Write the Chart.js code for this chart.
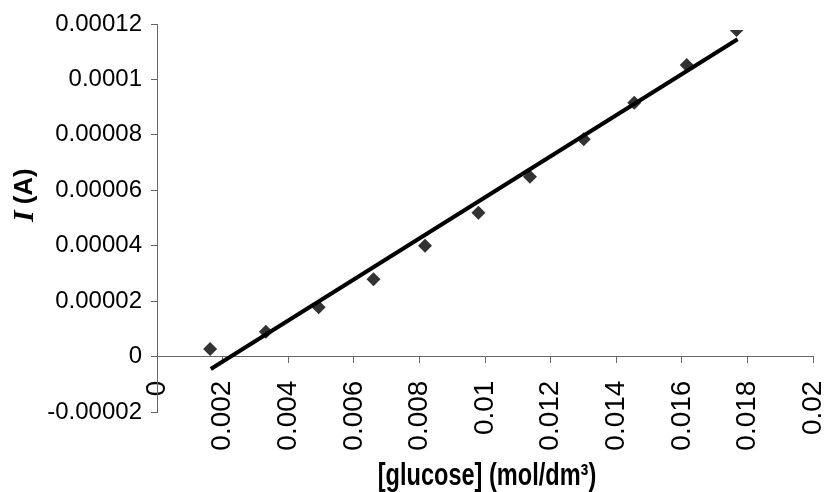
<!DOCTYPE html>
<html>
<head>
<meta charset="utf-8">
<title>Current vs glucose concentration</title>
<script src="https://cdn.jsdelivr.net/npm/chart.js@4.4.1/dist/chart.umd.min.js"></script>
<style>
  html, body { margin: 0; padding: 0; background: #fff; }
  #wrap { width: 830px; height: 492px; }
</style>
</head>
<body>
<div id="wrap"><canvas id="chart" width="830" height="492"></canvas></div>
<script>
// ------------------------------------------------------------
// DATA
// ------------------------------------------------------------
const glucoseConc = [0.00162, 0.00332, 0.00493, 0.0066, 0.00817, 0.0098, 0.01137, 0.01301, 0.01455, 0.01615, 0.01767];
const currentA    = [0.0000027, 0.000009, 0.0000178, 0.0000279, 0.00004, 0.0000519, 0.0000649, 0.0000784, 0.0000916, 0.0001052, 0.0001178];

// linear trendline end points
const trendX = [0.00164, 0.0177];
const trendY = [-0.0000045, 0.0001145];

const xTickValues = [0, 0.002, 0.004, 0.006, 0.008, 0.01, 0.012, 0.014, 0.016, 0.018, 0.02];
const xTickLabels = ["0", "0.002", "0.004", "0.006", "0.008", "0.01", "0.012", "0.014", "0.016", "0.018", "0.02"];
const yTickValues = [-0.00002, 0, 0.00002, 0.00004, 0.00006, 0.00008, 0.0001, 0.00012];
const yTickLabels = ["-0.00002", "0", "0.00002", "0.00004", "0.00006", "0.00008", "0.0001", "0.00012"];

const xTitle = "[glucose] (mol/dm\u00B3)";
const yTitleSymbol = "I";
const yTitleUnit = "(A)";

// ------------------------------------------------------------
// STYLE
// ------------------------------------------------------------
const SANS = "'Liberation Sans', Arial, sans-serif";
const SERIF = "'Liberation Serif', 'Times New Roman', serif";
const AXIS_GREY = "#666666";

// Axis titles: the I is serif bold italic, so draw them by hand
const axisTitles = {
    id: "axisTitles",
    afterDraw(chart) {
        const ctx = chart.ctx;
        const area = chart.chartArea;

        // x title, squeezed sideways like the original
        ctx.save();
        ctx.fillStyle = "#000";
        ctx.font = "bold 31px " + SANS;
        ctx.textAlign = "center";
        ctx.textBaseline = "alphabetic";
        ctx.translate((area.left + area.right) / 2 + 2, 485);
        ctx.scale(0.76, 1);
        ctx.fillText(xTitle, 0, 0);
        ctx.restore();

        // y title, rotated, reads bottom to top
        ctx.save();
        ctx.fillStyle = "#000";
        ctx.translate(25, 222);
        ctx.rotate(-Math.PI / 2);
        ctx.textAlign = "left";
        ctx.textBaseline = "middle";
        ctx.font = "bold italic 30px " + SERIF;
        ctx.fillText(yTitleSymbol, 0, 0);
        const w = ctx.measureText(yTitleSymbol).width;
        ctx.font = "bold 26px " + SANS;
        ctx.fillText(yTitleUnit, w + 6, 0);
        ctx.restore();
    }
};

new Chart(document.getElementById("chart"), {
    type: "scatter",
    data: {
        datasets: [
            {
                type: "line",
                label: "Linear fit",
                data: trendX.map((x, i) => ({ x: x, y: trendY[i] })),
                borderColor: "#000",
                borderWidth: 4,
                pointRadius: 0,
                fill: false,
                tension: 0
            },
            {
                label: "I",
                data: glucoseConc.map((x, i) => ({ x: x, y: currentA[i] })),
                pointStyle: "rectRot",
                pointRadius: 7,
                borderWidth: 0,
                backgroundColor: "#333333",
                borderColor: "#333333",
                showLine: false,
                // top marker is cut off by the plot edge in the original
                clip: { left: 0, top: -6, right: 0, bottom: 0 }
            }
        ]
    },
    options: {
        responsive: false,
        animation: false,
        events: [],
        // x axis sits on y = 0 and takes no layout room, so reserve it here
        layout: { padding: { top: 24, right: 17, bottom: 80, left: 0 } },
        plugins: {
            legend: { display: false },
            tooltip: { enabled: false },
            title: { display: false }
        },
        scales: {
            x: {
                type: "linear",
                position: { y: 0 },
                min: 0,
                max: 0.02,
                afterBuildTicks: (scale) => { scale.ticks = xTickValues.map(v => ({ value: v })); },
                afterFit: (scale) => {
                    scale.paddingLeft = 0;
                    scale.paddingRight = 0;
                    scale.paddingBottom = 0;
                },
                grid: { drawOnChartArea: false, drawTicks: true, tickLength: 6, color: AXIS_GREY },
                border: { display: true, color: AXIS_GREY, width: 1 },
                ticks: {
                    autoSkip: false,
                    minRotation: 90,
                    maxRotation: 90,
                    padding: 18,
                    color: "#000",
                    font: { family: SANS, size: 28 },
                    callback: (value, index) => xTickLabels[index]
                }
            },
            y: {
                type: "linear",
                position: "left",
                min: -0.00002,
                max: 0.00012,
                afterBuildTicks: (scale) => { scale.ticks = yTickValues.map(v => ({ value: v })); },
                afterFit: (scale) => { scale.width = 157; },
                grid: { drawOnChartArea: false, drawTicks: true, tickLength: 6, color: AXIS_GREY },
                border: { display: true, color: AXIS_GREY, width: 1 },
                ticks: {
                    padding: 9,
                    color: "#000",
                    font: { family: SANS, size: 24 },
                    callback: (value, index) => yTickLabels[index]
                }
            }
        }
    },
    plugins: [axisTitles]
});
</script>
</body>
</html>
